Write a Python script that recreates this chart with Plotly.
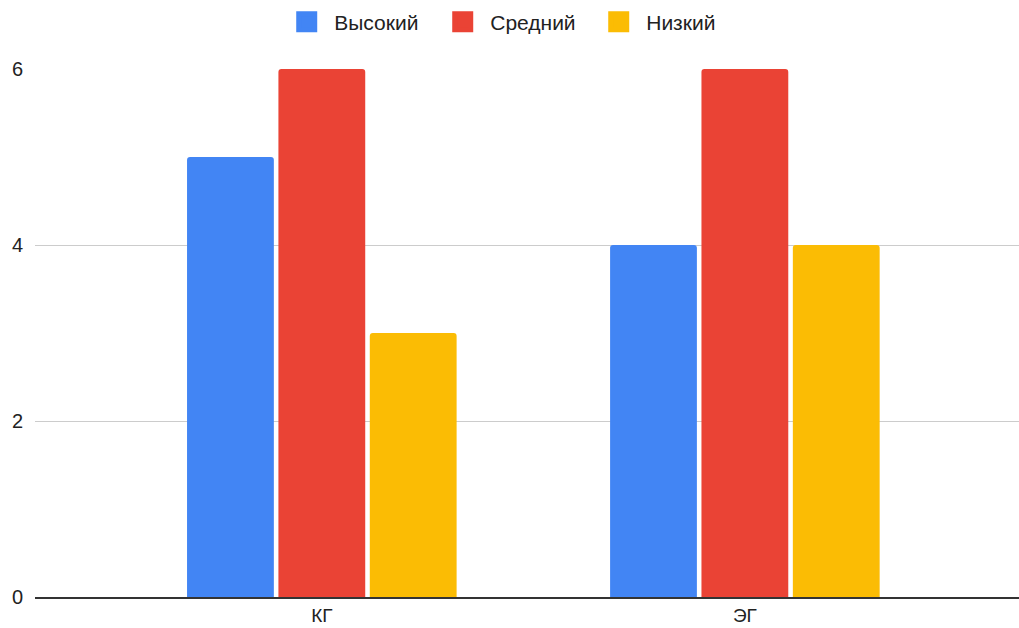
import plotly.graph_objects as go

categories = ["КГ", "ЭГ"]
series_names = ["Высокий", "Средний", "Низкий"]
high = [5, 4]
mid = [6, 6]
low = [3, 4]
colors = ["#4285F4", "#EA4335", "#FBBC04"]

fig = go.Figure()
for name, vals, c in zip(series_names, [high, mid, low], colors):
    fig.add_trace(go.Bar(x=categories, y=vals, name=name, marker_color=c,
                         marker_line_width=0, showlegend=False, legendgroup=name))
# legend swatches
for name, c in zip(series_names, colors):
    fig.add_trace(go.Scatter(x=[None], y=[None], mode="markers", name=name, legendgroup=name,
                             marker=dict(symbol="square", size=16, color=c,
                                         line=dict(color=c, width=5))))

fig.update_layout(
    width=1019, height=628,
    margin=dict(l=35, r=0, t=69, b=31),
    paper_bgcolor="white", plot_bgcolor="white",
    font=dict(family="Arial, Liberation Sans, sans-serif", size=18, color="#222"),
    barmode="group", bargap=0.352, bargroupgap=0.05, barcornerradius=3,
    legend=dict(orientation="h", x=0.486, xanchor="center", y=1.089, yanchor="middle",
                font=dict(size=21, color="#222"), itemwidth=45, traceorder="normal",
                itemsizing="trace", entrywidth=96, entrywidthmode="pixels"),
    xaxis=dict(range=[-0.678, 1.648], showgrid=False, showline=True,
               linecolor="#333", linewidth=1.5, ticks="", tickfont=dict(size=19, color="#222")),
    yaxis=dict(range=[0, 6], tickvals=[0, 2, 4, 6], showgrid=True, gridcolor="#ccc",
               gridwidth=1, zeroline=False, showline=False, ticks="",
               ticklabelstandoff=11, tickfont=dict(size=20, color="#222")),
)
fig.write_html("out.html")
